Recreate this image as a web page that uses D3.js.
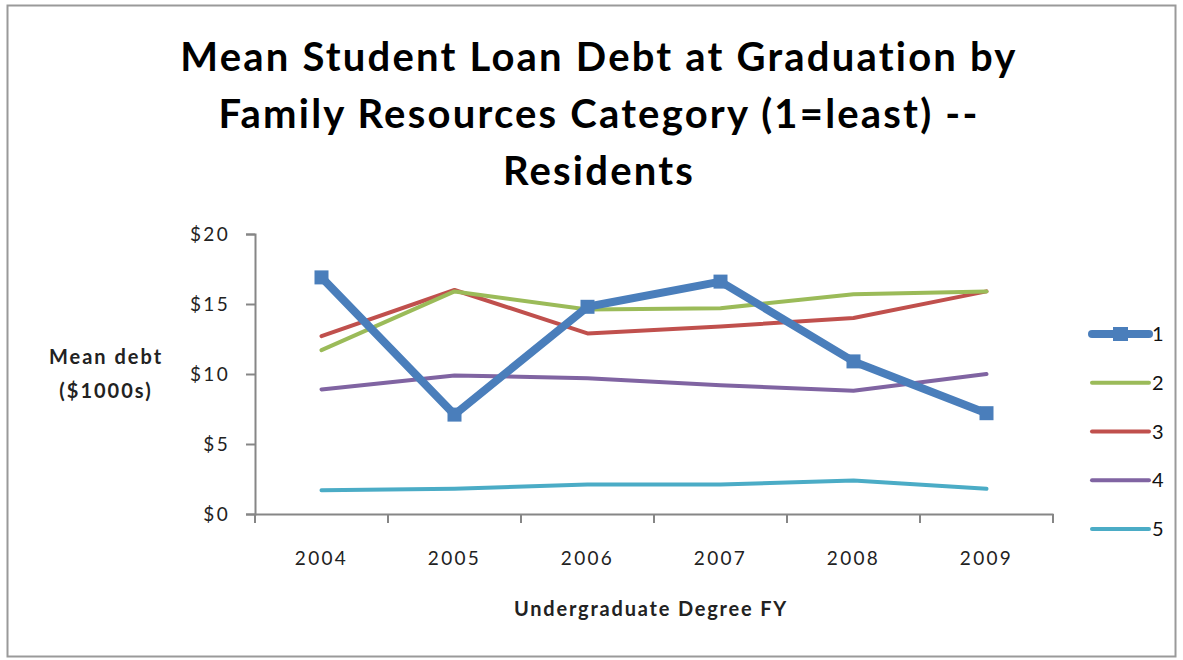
<!DOCTYPE html>
<html><head><meta charset="utf-8">
<script src="https://cdn.jsdelivr.net/npm/d3@7"></script>
<style>body{margin:0;background:#fff}svg{display:block}</style>
</head><body>
<script>
const years = ["2004","2005","2006","2007","2008","2009"];
const seriesNames = ["1","2","3","4","5"];
const s1 = [16.9, 7.1, 14.8, 16.6, 10.9, 7.2];
const s2 = [11.7, 15.9, 14.6, 14.7, 15.7, 15.9];
const s3 = [12.7, 16.0, 12.9, 13.4, 14.0, 15.9];
const s4 = [8.9, 9.9, 9.7, 9.2, 8.8, 10.0];
const s5 = [1.7, 1.8, 2.1, 2.1, 2.4, 1.8];
const yTicks = [0, 5, 10, 15, 20];
const colors = ["#4A7EBB", "#9BBB59", "#C0504D", "#8064A2", "#4BACC6"];
const titleLines = ["Mean Student Loan Debt at Graduation by", "Family Resources Category (1=least) --", "Residents"];

const W = 1183, H = 660;
const svg = d3.select("body").append("svg").attr("width", W).attr("height", H);
svg.append("rect").attr("x", 7.5).attr("y", 5.5).attr("width", 1168).attr("height", 651)
  .attr("fill", "#fff").attr("stroke", "#9a9a9a").attr("stroke-width", 2);

const font = "Lato, 'Open Sans', sans-serif";
// Title
svg.append("g").selectAll("text").data(titleLines).join("text")
  .attr("x", 599).attr("y", (d, i) => 71 + i * 57)
  .attr("text-anchor", "middle").attr("font-family", font).attr("font-weight", 700)
  .attr("font-size", 40).attr("letter-spacing", 2.2).attr("fill", "#000").text(d => d);

const L = 255, R = 1053, T = 234, B = 514;
const x = d3.scaleBand().domain(years).range([L, R]);
const y = d3.scaleLinear().domain([0, 20]).range([B, T]);
const axisColor = "#868686";

const yAxis = svg.append("g").attr("transform", `translate(${L},0)`)
  .call(d3.axisLeft(y).tickValues(yTicks).tickFormat(d => "$" + d).tickSize(9).tickPadding(16));
const xAxis = svg.append("g").attr("transform", `translate(0,${B})`)
  .call(d3.axisBottom(x).tickSize(0).tickPadding(44));
// category boundary ticks
const bounds = years.map(yr => x(yr)).concat([R]);
xAxis.selectAll("line.bt").data(bounds).join("line").attr("class", "bt")
  .attr("x1", d => d).attr("x2", d => d).attr("y1", 0).attr("y2", 9)
  .attr("stroke", axisColor).attr("stroke-width", 2);
[yAxis, xAxis].forEach(g => {
  g.select(".domain").attr("stroke", axisColor).attr("stroke-width", 2);
  g.selectAll(".tick line").attr("stroke", axisColor).attr("stroke-width", 2);
  g.selectAll(".tick text").attr("font-family", font).attr("font-size", 19)
    .attr("letter-spacing", 2.3).attr("fill", "#222");
});
xAxis.selectAll(".tick text").attr("dy", "0.35em");

// Axis titles
svg.append("text").attr("x", 651).attr("y", 616).attr("text-anchor", "middle")
  .attr("font-family", font).attr("font-weight", 700).attr("font-size", 20).attr("letter-spacing", 1.8).attr("fill", "#222")
  .text("Undergraduate Degree FY");
svg.append("g").selectAll("text").data(["Mean debt", "($1000s)"]).join("text")
  .attr("x", 106).attr("y", (d, i) => 364 + i * 34).attr("text-anchor", "middle")
  .attr("font-family", font).attr("font-weight", 700).attr("font-size", 20).attr("letter-spacing", 2).attr("fill", "#222")
  .text(d => d);

const series = [s1, s2, s3, s4, s5];
const line = d3.line().x((d, i) => x(years[i]) + x.bandwidth() / 2).y(d => y(d));
const plot = svg.append("g");
// draw from last to first so series 1 on top
series.slice().reverse().forEach((vals, ri) => {
  const i = series.length - 1 - ri;
  plot.append("path").datum(vals).attr("d", line).attr("fill", "none")
    .attr("stroke", colors[i]).attr("stroke-width", i === 0 ? 8 : 4)
    .attr("stroke-linejoin", "round").attr("stroke-linecap", "round");
});
plot.selectAll("rect.m").data(s1).join("rect").attr("class", "m")
  .attr("x", (d, i) => x(years[i]) + x.bandwidth() / 2 - 7).attr("y", d => y(d) - 7)
  .attr("width", 14).attr("height", 14).attr("fill", colors[0]);

// Legend
const lg = svg.append("g");
const ly = d3.scalePoint().domain(seriesNames).range([334, 529]);
seriesNames.forEach((n, i) => {
  lg.append("line").attr("x1", 1092).attr("x2", 1149).attr("y1", ly(n)).attr("y2", ly(n))
    .attr("stroke", colors[i]).attr("stroke-width", i === 0 ? 8 : 4).attr("stroke-linecap", "round");
  if (i === 0) lg.append("rect").attr("x", 1113).attr("y", ly(n) - 7).attr("width", 15).attr("height", 14).attr("fill", colors[0]);
  lg.append("text").attr("x", 1152).attr("y", ly(n)).attr("dy", "0.35em")
    .attr("font-family", font).attr("font-size", 20).attr("fill", "#111").text(n);
});
</script>
</body></html>
